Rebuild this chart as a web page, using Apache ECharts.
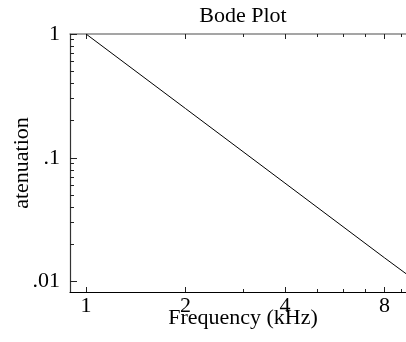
<!DOCTYPE html>
<html>
<head>
<meta charset="utf-8">
<script src="https://cdn.jsdelivr.net/npm/echarts@6/dist/echarts.min.js"></script>
<style>
  html, body { margin: 0; padding: 0; background: #fff; }
  #chart { width: 406px; height: 342px; }
</style>
</head>
<body>
<div id="chart"></div>
<script>
// data (log-log bode curve)
const frequency = [1, 2, 4, 8, 9.3];
const atenuation = [1, 0.25, 0.0625, 0.0156, 0.0116];

const xMajorTicks = [1, 2, 4, 8];
const xMinorTicks = [3, 5, 6, 7, 9];
const yMajorTicks = [0.01, 0.1, 1];
const yTickLabels = [".01", ".1", "1"];
const yMinorTicks = [0.02, 0.03, 0.04, 0.05, 0.06, 0.07, 0.08, 0.09,
                     0.2, 0.3, 0.4, 0.5, 0.6, 0.7, 0.8, 0.9];

const FONT = "Liberation Serif";
const FS = 22;
const X_MIN = 0.894, X_MAX = 9.3;
const Y_MIN = 0.00825, Y_MAX = 1;

const chart = echarts.init(document.getElementById("chart"));

const xBase = (pos, ticks, len, extra) => Object.assign({
  type: "log",
  logBase: 2,
  min: X_MIN,
  max: X_MAX,
  position: pos,
  splitLine: { show: false },
  axisTick: { show: true, inside: true, length: len, customValues: ticks,
              lineStyle: { color: "#222", width: 1 } },
  axisLabel: { show: false },
  axisLine: { show: false }
}, extra);

const yBase = (ticks, len, extra) => Object.assign({
  type: "log",
  logBase: 10,
  min: Y_MIN,
  max: Y_MAX,
  position: "left",
  splitLine: { show: false },
  axisTick: { show: true, inside: true, length: len, customValues: ticks,
              lineStyle: { color: "#222", width: 1 } },
  axisLabel: { show: false },
  axisLine: { show: false }
}, extra);

chart.setOption({
  animation: false,
  title: {
    text: "Bode Plot",
    left: 243,
    textAlign: "center",
    top: 5,
    padding: 0,
    textStyle: { fontFamily: FONT, fontSize: FS, fontWeight: "normal", color: "#000" }
  },
  grid: { left: 70, right: 0, top: 34, bottom: 50, containLabel: false, outerBoundsMode: "none" },
  xAxis: [
    xBase("bottom", xMajorTicks, 5, {
      axisLine: { show: true, lineStyle: { color: "#000", width: 1.2 } },
      axisLabel: {
        show: true, customValues: xMajorTicks, margin: 3,
        fontFamily: FONT, fontSize: FS, color: "#000",
        formatter: v => String(Math.round(v))
      },
      name: "Frequency (kHz)",
      nameLocation: "middle",
      nameGap: 15,
      nameMoveOverlap: false,
      nameTextStyle: { fontFamily: FONT, fontSize: FS, color: "#000", padding: [0, 0, 0, 10] }
    }),
    xBase("bottom", xMinorTicks, 3),
    xBase("top", xMajorTicks, 5, {
      axisLine: { show: true, lineStyle: { color: "#888", width: 1.5 } }
    }),
    xBase("top", xMinorTicks, 3)
  ],
  yAxis: [
    yBase(yMajorTicks, 7, {
      axisLine: { show: true, lineStyle: { color: "#333", width: 1.2 } },
      axisLabel: {
        show: true, customValues: yMajorTicks, margin: 10,
        fontFamily: FONT, fontSize: FS, color: "#000",
        formatter: v => {
          const i = yMajorTicks.findIndex(t => Math.abs(Math.log10(t / v)) < 1e-6);
          return i >= 0 ? yTickLabels[i] : "";
        }
      },
      name: "atenuation",
      nameLocation: "middle",
      nameGap: 37,
      nameRotate: 90,
      nameMoveOverlap: false,
      nameTextStyle: { fontFamily: FONT, fontSize: FS, color: "#000" }
    }),
    yBase(yMinorTicks, 4)
  ],
  series: [{
    type: "line",
    xAxisIndex: 0,
    yAxisIndex: 0,
    data: frequency.map((f, i) => [f, atenuation[i]]),
    showSymbol: false,
    symbol: "none",
    clip: true,
    lineStyle: { color: "#000", width: 1 }
  }]
});
</script>
</body>
</html>
